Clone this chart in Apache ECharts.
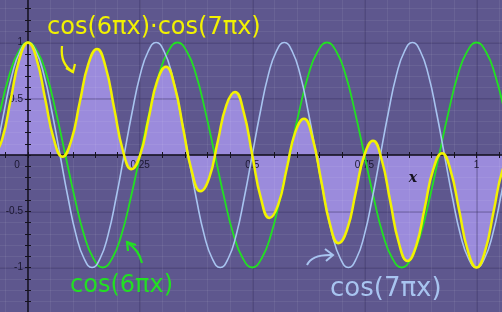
<!DOCTYPE html>
<html><head><meta charset="utf-8">
<script src="https://cdn.jsdelivr.net/npm/echarts@6/dist/echarts.min.js"></script>
<style>html,body{margin:0;padding:0;background:#5e578e;overflow:hidden}#c{width:502px;height:312px}</style>
</head><body><div id="c"></div>
<script>
// tick labels
const xTickLabels = ['0.25', '0.5', '0.75', '1'];
const yTickLabels = ['-1', '-0.5', '0.5', '1'];

// cos(6πx): samples every 1/48 starting at x = -3/48
const greenStart = -3 / 48, greenStep = 1 / 48;
const greenVals = [0.38, 0.71, 0.92, 1, 0.92, 0.71, 0.38, 0, -0.38, -0.71, -0.92, -1, -0.92, -0.71, -0.38, 0,
  0.38, 0.71, 0.92, 1, 0.92, 0.71, 0.38, 0, -0.38, -0.71, -0.92, -1, -0.92, -0.71, -0.38, 0,
  0.38, 0.71, 0.92, 1, 0.92, 0.71, 0.38, 0, -0.38, -0.71, -0.92, -1, -0.92, -0.71, -0.38, 0,
  0.38, 0.71, 0.92, 1, 0.92, 0.71, 0.38];

// cos(7πx): samples every 1/56 starting at x = -4/56
const blueStart = -4 / 56, blueStep = 1 / 56;
const blueVals = [0, 0.38, 0.71, 0.92, 1, 0.92, 0.71, 0.38, 0, -0.38, -0.71, -0.92, -1, -0.92, -0.71, -0.38,
  0, 0.38, 0.71, 0.92, 1, 0.92, 0.71, 0.38, 0, -0.38, -0.71, -0.92, -1, -0.92, -0.71, -0.38,
  0, 0.38, 0.71, 0.92, 1, 0.92, 0.71, 0.38, 0, -0.38, -0.71, -0.92, -1, -0.92, -0.71, -0.38,
  0, 0.38, 0.71, 0.92, 1, 0.92, 0.71, 0.38, 0, -0.38, -0.71, -0.92, -1, -0.92, -0.71, -0.38, 0];

// cos(6πx)·cos(7πx): samples every 1/52 starting at x = -4/52
const prodStart = -4 / 52, prodStep = 1 / 52;
const prodVals = [-0.015, 0.138, 0.496, 0.853, 1, 0.853, 0.496, 0.138, -0.015, 0.124, 0.468, 0.810, 0.943,
  0.782, 0.412, 0.040, -0.126, 0, 0.332, 0.662, 0.784, 0.612, 0.232, -0.148, -0.323, -0.205, 0.120,
  0.444, 0.560, 0.384, 0, -0.384, -0.560, -0.444, -0.120, 0.205, 0.323, 0.148, -0.232, -0.612, -0.784,
  -0.662, -0.332, 0, 0.126, -0.040, -0.412, -0.782, -0.943, -0.810, -0.468, -0.124, 0.015, -0.138,
  -0.496, -0.853, -1, -0.853, -0.496, -0.138, 0.015];

const toPairs = (start, step, vals) => vals.map((v, i) => [start + i * step, v]);
const greenData = toPairs(greenStart, greenStep, greenVals);
const blueData = toPairs(blueStart, blueStep, blueVals);
const prodData = toPairs(prodStart, prodStep, prodVals);

const axisColor = '#15121f';
const labelFont = { color: '#1b1730', fontSize: 10, fontFamily: 'Liberation Sans' };
// grid 0 spans pixels x: -16.85 .. 521.35, y: -2.5 .. 312.5 ; zero lines at x=28, y=155
const xOff = -157.5, yOff = -44.85;
const minorGrid = 'rgba(255,255,255,0.065)';
const majorGrid = 'rgba(40,32,80,0.32)';

const chart = echarts.init(document.getElementById('c'), null, { renderer: 'canvas' });
chart.setOption({
  animation: false,
  backgroundColor: '#5e578e',
  grid: [
    { left: -16.85, top: -2.5, width: 538.2, height: 315, containLabel: false, outerBoundsMode: 'none' },
    { left: -84.1, top: -13.75, width: 672.75, height: 337.5, containLabel: false, outerBoundsMode: 'none' }
  ],
  xAxis: [
    {
      gridIndex: 0, type: 'value', min: -0.1, max: 1.1, interval: 0.05, z: 1.5,
      position: 'bottom', offset: xOff,
      axisLine: { show: true, onZero: false, lineStyle: { color: axisColor, width: 1.5 } },
      axisTick: { show: true, length: 3, lineStyle: { color: axisColor } },
      axisLabel: Object.assign({
        margin: 5, hideOverlap: false, showMinLabel: true, showMaxLabel: true,
        formatter: v => {
          const t = String(+(+v).toFixed(2));
          if (t === '0') return '{z|0}';
          return xTickLabels.includes(t) ? t : '';
        },
        rich: { z: { padding: [0, 22, 0, 0], fontSize: 10, color: '#1b1730', fontFamily: 'Liberation Sans' } }
      }, labelFont),
      splitLine: { show: true, lineStyle: { color: minorGrid, width: 1 } }
    },
    {
      gridIndex: 0, type: 'value', min: -0.1, max: 1.1, interval: 0.05, z: 1.5,
      position: 'bottom', offset: xOff,
      axisLine: { show: false, onZero: false },
      axisTick: { show: true, inside: true, length: 3, lineStyle: { color: axisColor } },
      axisLabel: { show: false }, splitLine: { show: false }
    },
    {
      gridIndex: 1, type: 'value', min: -0.25, max: 1.25, interval: 0.25, z: 1.5,
      axisLine: { show: false, onZero: false }, axisTick: { show: false }, axisLabel: { show: false },
      splitLine: { show: true, lineStyle: { color: majorGrid, width: 1.5 } }
    }
  ],
  yAxis: [
    {
      gridIndex: 0, type: 'value', min: -1.4, max: 1.4, interval: 0.1, z: 1.5,
      position: 'left', offset: yOff,
      axisLine: { show: true, onZero: false, lineStyle: { color: axisColor, width: 1.5 } },
      axisTick: { show: true, length: 3, lineStyle: { color: axisColor } },
      axisLabel: Object.assign({
        margin: 5, hideOverlap: false,
        formatter: v => {
          const t = String(+(+v).toFixed(1));
          return yTickLabels.includes(t) ? t : '';
        }
      }, labelFont),
      splitLine: { show: true, lineStyle: { color: minorGrid, width: 1 } }
    },
    {
      gridIndex: 0, type: 'value', min: -1.4, max: 1.4, interval: 0.1, z: 1.5,
      position: 'left', offset: yOff,
      axisLine: { show: false, onZero: false },
      axisTick: { show: true, inside: true, length: 3, lineStyle: { color: axisColor } },
      axisLabel: { show: false }, splitLine: { show: false }
    },
    {
      gridIndex: 1, type: 'value', min: -1.5, max: 1.5, interval: 0.5, z: 1.5,
      axisLine: { show: false, onZero: false }, axisTick: { show: false }, axisLabel: { show: false },
      splitLine: { show: true, lineStyle: { color: majorGrid, width: 1.5 } }
    }
  ],
  series: [
    {
      name: 'fill', type: 'line', xAxisIndex: 0, yAxisIndex: 0, data: prodData, smooth: 0.5,
      showSymbol: false, z: 1, lineStyle: { width: 0, opacity: 0 },
      areaStyle: { color: '#9b8bdc', opacity: 1, origin: 0 }, silent: true
    },
    {
      name: 'cos(6πx)', type: 'line', xAxisIndex: 0, yAxisIndex: 0, data: greenData, smooth: 0.5,
      showSymbol: false, z: 3, lineStyle: { color: '#22e022', width: 1.8 }
    },
    {
      name: 'cos(7πx)', type: 'line', xAxisIndex: 0, yAxisIndex: 0, data: blueData, smooth: 0.5,
      showSymbol: false, z: 3, lineStyle: { color: '#a8c4f0', width: 1.6 }
    },
    {
      name: 'cos(6πx)·cos(7πx)', type: 'line', xAxisIndex: 0, yAxisIndex: 0, data: prodData, smooth: 0.5,
      showSymbol: false, z: 4, lineStyle: { color: '#f2f200', width: 2.5 }
    }
  ],
  graphic: [
    { type: 'text', x: 413, y: 178, z: 10, style: { text: 'x', fill: '#15121f', font: 'italic bold 14px "DejaVu Serif"', textAlign: 'center', textVerticalAlign: 'middle' } },
    { type: 'text', x: 47, y: 28, z: 10, style: { text: 'cos(6πx)·cos(7πx)', fill: '#f2f200', font: '24px "DejaVu Sans"', textAlign: 'left', textVerticalAlign: 'middle' } },
    { type: 'text', x: 70, y: 286, z: 10, style: { text: 'cos(6πx)', fill: '#22e022', font: '24px "DejaVu Sans"', textAlign: 'left', textVerticalAlign: 'middle' } },
    { type: 'text', x: 330, y: 289, z: 10, style: { text: 'cos(7πx)', fill: '#a8c4f0', font: '26px "DejaVu Sans"', textAlign: 'left', textVerticalAlign: 'middle' } },
    { type: 'bezierCurve', z: 10, shape: { x1: 62, y1: 46, cpx1: 60, cpy1: 64, x2: 73, y2: 72 }, style: { stroke: '#f2f200', lineWidth: 2.2, fill: null } },
    { type: 'polyline', z: 10, shape: { points: [[66, 68], [73, 72], [75, 64]] }, style: { stroke: '#f2f200', lineWidth: 2.2, fill: null } },
    { type: 'bezierCurve', z: 10, shape: { x1: 142, y1: 263, cpx1: 139, cpy1: 250, x2: 127, y2: 242 }, style: { stroke: '#22e022', lineWidth: 2.2, fill: null } },
    { type: 'polyline', z: 10, shape: { points: [[128, 251], [127, 242], [136, 245]] }, style: { stroke: '#22e022', lineWidth: 2.2, fill: null } },
    { type: 'bezierCurve', z: 10, shape: { x1: 307, y1: 265, cpx1: 312, cpy1: 254, x2: 333, y2: 255 }, style: { stroke: '#a8c4f0', lineWidth: 2, fill: null } },
    { type: 'polyline', z: 10, shape: { points: [[325, 249], [333, 255], [326, 261]] }, style: { stroke: '#a8c4f0', lineWidth: 2, fill: null } }
  ]
});
</script>
</body></html>
